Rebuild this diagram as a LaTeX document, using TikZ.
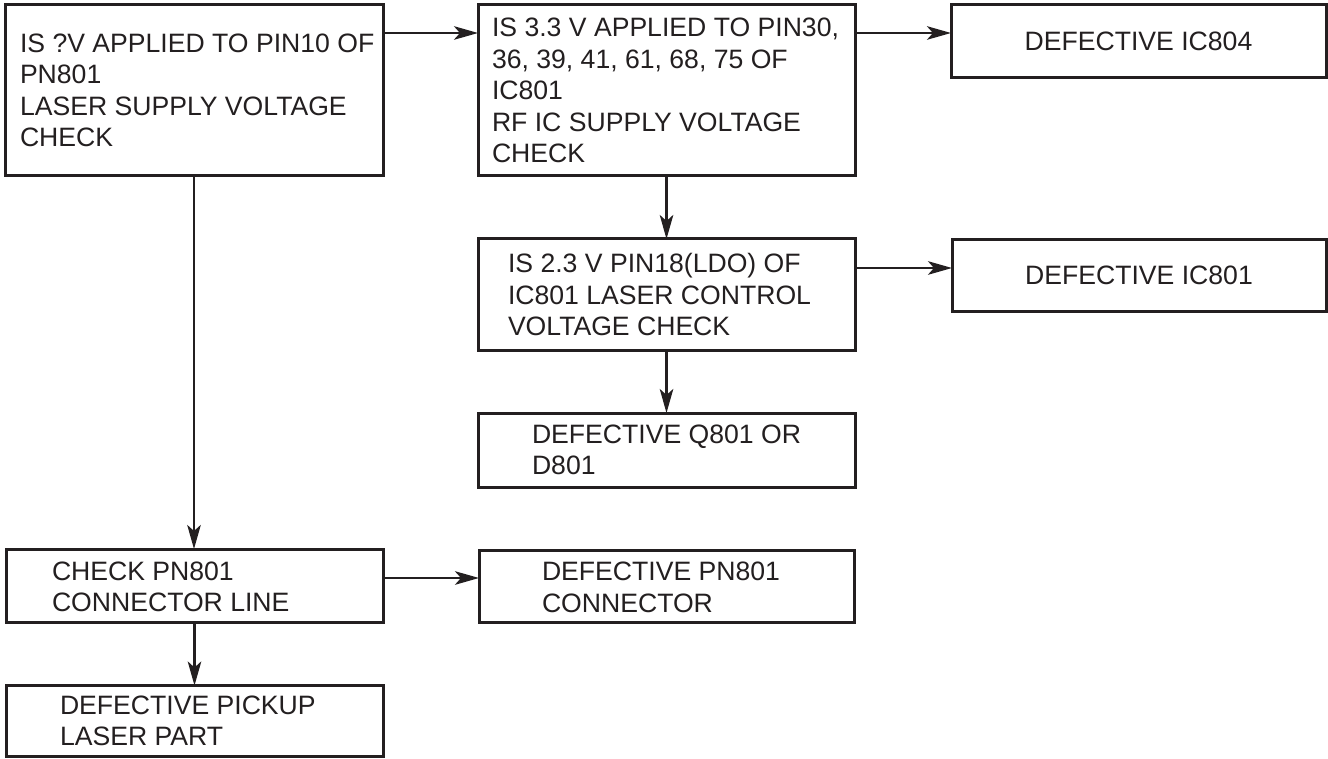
\documentclass[tikz,border=0pt]{standalone}
\usepackage{fontspec}
\setmainfont{Liberation Sans}
\usetikzlibrary{arrows.meta}
\definecolor{ink}{RGB}{35,31,32}
\tikzset{
  box/.style={draw=ink, line width=3pt, inner sep=0pt, outer sep=0pt, fill=none},
  txt/.style={inner sep=0pt, outer sep=0pt, align=left, text=ink,
              font=\fontsize{26.6pt}{31.5pt}\selectfont},
  ctxt/.style={txt, align=center},
  arr/.style={draw=ink, line width=2.5pt, -{Stealth[length=24pt,width=13.5pt,inset=6pt]}},
}
\begin{document}
\begin{tikzpicture}[x=1pt,y=-1pt]
\useasboundingbox[fill=white] (0,0) rectangle (1328,759);

% boxes
\node[box, minimum width=378pt, minimum height=171pt] (A) at (194,90.5) {};
\node[box, minimum width=377pt, minimum height=171pt] (B) at (666.5,90.5) {};
\node[box, minimum width=375pt, minimum height=73pt]  (C) at (1138.5,41.5) {};
\node[box, minimum width=377pt, minimum height=111pt] (D) at (666.5,294.5) {};
\node[box, minimum width=374pt, minimum height=72pt]  (E) at (1139,276) {};
\node[box, minimum width=377pt, minimum height=74pt]  (F) at (666.5,450) {};
\node[box, minimum width=377pt, minimum height=73pt]  (G) at (194.5,585.5) {};
\node[box, minimum width=375pt, minimum height=72pt]  (H) at (666.5,586) {};
\node[box, minimum width=377pt, minimum height=71pt]  (I) at (194.5,721) {};

% texts
\node[txt, anchor=west] (At) at ([xshift=15pt]A.west)
  {IS ?V APPLIED TO PIN10 OF\\PN801\\LASER SUPPLY VOLTAGE\\CHECK};
\node[txt, anchor=west] (Bt) at ([xshift=14pt]B.west)
  {IS 3.3 V APPLIED TO PIN30,\\36, 39, 41, 61, 68, 75 OF\\IC801\\RF IC SUPPLY VOLTAGE\\CHECK};
\node[ctxt] (Ct) at (C.center) {DEFECTIVE IC804};
\node[txt, anchor=west] (Dt) at ([xshift=30pt]D.west)
  {IS 2.3 V PIN18(LDO) OF\\IC801 LASER CONTROL\\VOLTAGE CHECK};
\node[ctxt] (Et) at ([yshift=1pt]E.center) {DEFECTIVE IC801};
\node[txt, anchor=west] (Ft) at ([xshift=54pt]F.west)
  {DEFECTIVE Q801 OR\\D801};
\node[txt, anchor=west] (Gt) at ([xshift=46pt, yshift=-1.5pt]G.west)
  {CHECK PN801\\CONNECTOR LINE};
\node[txt, anchor=west] (Ht) at ([xshift=63pt, yshift=-1.5pt]H.west)
  {DEFECTIVE PN801\\CONNECTOR};
\node[txt, anchor=west] (It) at ([xshift=54pt]I.west)
  {DEFECTIVE PICKUP\\LASER PART};

% connectors
\draw[arr] ([yshift=57.5pt]A.east) coordinate (ab) -- (ab -| B.west);
\draw[arr] ([yshift=57.5pt]B.east) coordinate (bc) -- (bc -| C.west);
\draw[arr] (B.south) -- (D.north);
\draw[arr] ([yshift=26.5pt]D.east) coordinate (de) -- (de -| E.west);
\draw[arr] (D.south) -- (F.north);
\draw[arr] (A.south) -- (A.south |- G.north);
\draw[arr] ([yshift=7.5pt]G.east) coordinate (gh) -- (gh -| H.west);
\draw[arr] (G.south) -- (G.south |- I.north);
\end{tikzpicture}
\end{document}
